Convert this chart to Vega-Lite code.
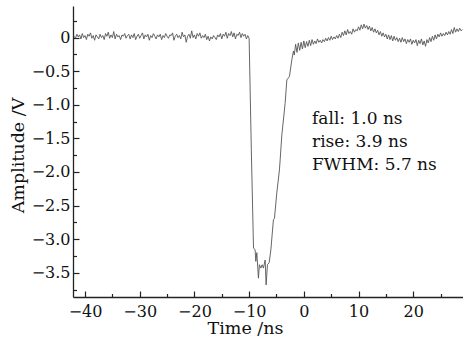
{
  "$schema": "https://vega.github.io/schema/vega-lite/v6.json",
  "width": 390,
  "height": 291,
  "autosize": {"type": "none"},
  "padding": {"left": 73, "top": 6, "right": 0, "bottom": 44},
  "background": "#ffffff",
  "config": {
    "view": {"stroke": null},
    "axis": {
      "grid": false,
      "domainColor": "#222222",
      "domainWidth": 1.3,
      "tickColor": "#222222",
      "tickWidth": 1.2,
      "labelFont": "DejaVu Serif",
      "labelFontSize": 16,
      "labelColor": "#111111",
      "titleFont": "DejaVu Serif",
      "titleFontSize": 17.5,
      "titleFontWeight": "normal",
      "titleColor": "#111111"
    }
  },
  "encoding": {
    "x": {
      "field": "t",
      "type": "quantitative",
      "scale": {"domain": [-42.2, 29.1], "nice": false, "zero": false},
      "axis": {
        "title": "Time /ns",
        "values": [-40, -35, -30, -25, -20, -15, -10, -5, 0, 5, 10, 15, 20, 25],
        "labelExpr": "datum.value % 10 == 0 ? format(datum.value, 'd') : ''",
        "tickSize": {"condition": {"test": "datum.value % 10 == 0", "value": -6}, "value": -3.5},
        "labelPadding": 12,
        "labelFlush": false,
        "labelOverlap": false,
        "titleX": 172,
        "titleY": 36,
        "titleBaseline": "alphabetic",
        "titleAlign": "center"
      }
    },
    "y": {
      "field": "v",
      "type": "quantitative",
      "scale": {"domain": [-3.86, 0.47], "nice": false, "zero": false},
      "axis": {
        "title": "Amplitude /V",
        "values": [-3.75, -3.5, -3.25, -3.0, -2.75, -2.5, -2.25, -2.0, -1.75, -1.5, -1.25, -1.0, -0.75, -0.5, -0.25, 0, 0.25],
        "labelExpr": "datum.value == 0 ? '0' : (abs(datum.value * 2 - round(datum.value * 2)) < 0.000001 ? format(datum.value, '.1f') : '')",
        "tickSize": {"condition": {"test": "abs(datum.value * 2 - round(datum.value * 2)) < 0.000001", "value": -6}, "value": -3.5},
        "labelPadding": 9,
        "labelFlush": false,
        "labelOverlap": false,
        "titleX": -50,
        "titleY": 149,
        "titleAngle": -90,
        "titleBaseline": "alphabetic",
        "titleAlign": "center"
      }
    }
  },
  "layer": [
    {
      "data": {"values": [
        {"t": -42.0, "v": 0.02}, {"t": -41.75, "v": -0.01}, {"t": -41.5, "v": 0.05}, {"t": -41.25, "v": 0.01},
        {"t": -41.0, "v": 0.04}, {"t": -40.75, "v": -0.02}, {"t": -40.5, "v": 0.06}, {"t": -40.25, "v": 0.0},
        {"t": -40.0, "v": 0.03}, {"t": -39.75, "v": -0.03}, {"t": -39.5, "v": 0.05}, {"t": -39.25, "v": 0.02},
        {"t": -39.0, "v": 0.07}, {"t": -38.75, "v": -0.01}, {"t": -38.5, "v": 0.03}, {"t": -38.25, "v": -0.04},
        {"t": -38.0, "v": 0.04}, {"t": -37.75, "v": 0.01}, {"t": -37.5, "v": -0.02}, {"t": -37.25, "v": 0.05},
        {"t": -37.0, "v": 0.0}, {"t": -36.75, "v": 0.03}, {"t": -36.5, "v": -0.03}, {"t": -36.25, "v": 0.06},
        {"t": -36.0, "v": 0.02}, {"t": -35.75, "v": 0.08}, {"t": -35.5, "v": -0.01}, {"t": -35.25, "v": 0.04},
        {"t": -35.0, "v": 0.0}, {"t": -34.75, "v": 0.09}, {"t": -34.5, "v": -0.02}, {"t": -34.25, "v": 0.05},
        {"t": -34.0, "v": 0.01}, {"t": -33.75, "v": 0.03}, {"t": -33.5, "v": -0.03}, {"t": -33.25, "v": 0.04},
        {"t": -33.0, "v": 0.02}, {"t": -32.75, "v": 0.06}, {"t": -32.5, "v": -0.01}, {"t": -32.25, "v": 0.03},
        {"t": -32.0, "v": 0.05}, {"t": -31.75, "v": -0.02}, {"t": -31.5, "v": 0.04}, {"t": -31.25, "v": 0.0},
        {"t": -31.0, "v": 0.06}, {"t": -30.75, "v": -0.03}, {"t": -30.5, "v": 0.02}, {"t": -30.25, "v": 0.05},
        {"t": -30.0, "v": -0.01}, {"t": -29.75, "v": 0.03}, {"t": -29.5, "v": 0.07}, {"t": -29.25, "v": -0.02},
        {"t": -29.0, "v": 0.04}, {"t": -28.75, "v": 0.01}, {"t": -28.5, "v": 0.05}, {"t": -28.25, "v": -0.04},
        {"t": -28.0, "v": 0.03}, {"t": -27.75, "v": 0.0}, {"t": -27.5, "v": 0.06}, {"t": -27.25, "v": 0.02},
        {"t": -27.0, "v": -0.02}, {"t": -26.75, "v": 0.04}, {"t": -26.5, "v": 0.01}, {"t": -26.25, "v": 0.05},
        {"t": -26.0, "v": -0.03}, {"t": -25.75, "v": 0.03}, {"t": -25.5, "v": 0.0}, {"t": -25.25, "v": 0.06},
        {"t": -25.0, "v": 0.02}, {"t": -24.75, "v": -0.01}, {"t": -24.5, "v": 0.04}, {"t": -24.25, "v": 0.03},
        {"t": -24.0, "v": 0.07}, {"t": -23.75, "v": -0.04}, {"t": -23.5, "v": 0.02}, {"t": -23.25, "v": 0.05},
        {"t": -23.0, "v": 0.0}, {"t": -22.75, "v": 0.03}, {"t": -22.5, "v": -0.02}, {"t": -22.25, "v": 0.08},
        {"t": -22.0, "v": 0.01}, {"t": -21.75, "v": 0.04}, {"t": -21.5, "v": -0.07}, {"t": -21.25, "v": 0.02},
        {"t": -21.0, "v": 0.05}, {"t": -20.75, "v": -0.01}, {"t": -20.5, "v": 0.1}, {"t": -20.25, "v": 0.0},
        {"t": -20.0, "v": 0.04}, {"t": -19.75, "v": -0.02}, {"t": -19.5, "v": 0.06}, {"t": -19.25, "v": 0.02},
        {"t": -19.0, "v": 0.07}, {"t": -18.75, "v": -0.01}, {"t": -18.5, "v": 0.03}, {"t": -18.25, "v": 0.0},
        {"t": -18.0, "v": 0.05}, {"t": -17.75, "v": -0.03}, {"t": -17.5, "v": 0.02}, {"t": -17.25, "v": -0.05},
        {"t": -17.0, "v": 0.01}, {"t": -16.75, "v": -0.02}, {"t": -16.5, "v": 0.03}, {"t": -16.25, "v": 0.0},
        {"t": -16.0, "v": -0.03}, {"t": -15.75, "v": 0.04}, {"t": -15.5, "v": 0.01}, {"t": -15.25, "v": 0.06},
        {"t": -15.0, "v": -0.02}, {"t": -14.75, "v": 0.05}, {"t": -14.5, "v": 0.02}, {"t": -14.25, "v": 0.08},
        {"t": -14.0, "v": -0.01}, {"t": -13.75, "v": 0.06}, {"t": -13.5, "v": 0.03}, {"t": -13.25, "v": 0.09},
        {"t": -13.0, "v": 0.01}, {"t": -12.75, "v": 0.07}, {"t": -12.5, "v": -0.02}, {"t": -12.25, "v": 0.05},
        {"t": -12.0, "v": 0.03}, {"t": -11.75, "v": 0.08}, {"t": -11.5, "v": 0.0}, {"t": -11.25, "v": 0.06},
        {"t": -11.0, "v": 0.02}, {"t": -10.75, "v": 0.05}, {"t": -10.5, "v": -0.02}, {"t": -10.25, "v": 0.03},
        {"t": -10.0, "v": -0.01},
        {"t": -9.6, "v": -1.67}, {"t": -9.2, "v": -3.13}, {"t": -8.9, "v": -3.16}, {"t": -8.78, "v": -3.33},
        {"t": -8.59, "v": -3.2}, {"t": -8.3, "v": -3.58}, {"t": -8.12, "v": -3.38}, {"t": -7.86, "v": -3.43},
        {"t": -7.62, "v": -3.38}, {"t": -7.39, "v": -3.43}, {"t": -7.07, "v": -3.31}, {"t": -6.89, "v": -3.68},
        {"t": -6.65, "v": -3.38}, {"t": -6.34, "v": -3.35}, {"t": -6.03, "v": -3.16}, {"t": -5.56, "v": -2.71},
        {"t": -5.37, "v": -2.69}, {"t": -4.94, "v": -2.31}, {"t": -4.46, "v": -1.97}, {"t": -4.33, "v": -1.82},
        {"t": -4.02, "v": -1.45}, {"t": -3.42, "v": -0.98}, {"t": -3.11, "v": -0.63}, {"t": -2.63, "v": -0.58},
        {"t": -2.19, "v": -0.33}, {"t": -1.9, "v": -0.2},
        {"t": -1.75, "v": -0.26}, {"t": -1.5, "v": -0.1}, {"t": -1.25, "v": -0.22}, {"t": -1.0, "v": -0.08},
        {"t": -0.75, "v": -0.19}, {"t": -0.5, "v": -0.07}, {"t": -0.25, "v": -0.17}, {"t": 0.0, "v": -0.05},
        {"t": 0.25, "v": -0.15}, {"t": 0.5, "v": -0.06}, {"t": 0.75, "v": -0.13}, {"t": 1.0, "v": -0.04},
        {"t": 1.25, "v": -0.12}, {"t": 1.5, "v": -0.03}, {"t": 1.75, "v": -0.1}, {"t": 2.0, "v": -0.05},
        {"t": 2.25, "v": -0.09}, {"t": 2.5, "v": -0.02}, {"t": 2.75, "v": -0.07}, {"t": 3.0, "v": -0.04},
        {"t": 3.25, "v": -0.08}, {"t": 3.5, "v": -0.03}, {"t": 3.75, "v": -0.06}, {"t": 4.0, "v": -0.01},
        {"t": 4.25, "v": -0.05}, {"t": 4.5, "v": 0.0}, {"t": 4.75, "v": -0.04}, {"t": 5.0, "v": 0.02},
        {"t": 5.25, "v": -0.03}, {"t": 5.5, "v": 0.01}, {"t": 5.75, "v": -0.02}, {"t": 6.0, "v": 0.03},
        {"t": 6.25, "v": -0.01}, {"t": 6.5, "v": 0.05}, {"t": 6.75, "v": 0.0}, {"t": 7.0, "v": 0.08},
        {"t": 7.25, "v": 0.03}, {"t": 7.5, "v": 0.1}, {"t": 7.75, "v": 0.04}, {"t": 8.0, "v": 0.12},
        {"t": 8.25, "v": 0.06}, {"t": 8.5, "v": 0.09}, {"t": 8.75, "v": 0.05}, {"t": 9.0, "v": 0.13},
        {"t": 9.25, "v": 0.08}, {"t": 9.5, "v": 0.12}, {"t": 9.75, "v": 0.1}, {"t": 10.0, "v": 0.16},
        {"t": 10.25, "v": 0.11}, {"t": 10.5, "v": 0.19}, {"t": 10.75, "v": 0.13}, {"t": 11.0, "v": 0.2},
        {"t": 11.25, "v": 0.14}, {"t": 11.5, "v": 0.18}, {"t": 11.75, "v": 0.12}, {"t": 12.0, "v": 0.17},
        {"t": 12.25, "v": 0.1}, {"t": 12.5, "v": 0.15}, {"t": 12.75, "v": 0.08}, {"t": 13.0, "v": 0.13},
        {"t": 13.25, "v": 0.07}, {"t": 13.5, "v": 0.11}, {"t": 13.75, "v": 0.04}, {"t": 14.0, "v": 0.09},
        {"t": 14.25, "v": 0.02}, {"t": 14.5, "v": 0.07}, {"t": 14.75, "v": 0.01}, {"t": 15.0, "v": 0.05},
        {"t": 15.25, "v": -0.02}, {"t": 15.5, "v": 0.04}, {"t": 15.75, "v": -0.03}, {"t": 16.0, "v": 0.03},
        {"t": 16.25, "v": -0.05}, {"t": 16.5, "v": 0.02}, {"t": 16.75, "v": -0.04}, {"t": 17.0, "v": 0.0},
        {"t": 17.25, "v": -0.06}, {"t": 17.5, "v": -0.01}, {"t": 17.75, "v": -0.07}, {"t": 18.0, "v": 0.0},
        {"t": 18.25, "v": -0.06}, {"t": 18.5, "v": -0.02}, {"t": 18.75, "v": -0.09}, {"t": 19.0, "v": -0.03},
        {"t": 19.25, "v": -0.07}, {"t": 19.5, "v": -0.02}, {"t": 19.75, "v": -0.1}, {"t": 20.0, "v": -0.04},
        {"t": 20.25, "v": -0.08}, {"t": 20.5, "v": -0.03}, {"t": 20.75, "v": -0.12}, {"t": 21.0, "v": -0.04},
        {"t": 21.25, "v": -0.09}, {"t": 21.5, "v": -0.02}, {"t": 21.75, "v": -0.11}, {"t": 22.0, "v": -0.05},
        {"t": 22.25, "v": -0.13}, {"t": 22.5, "v": -0.03}, {"t": 22.75, "v": -0.08}, {"t": 23.0, "v": 0.0},
        {"t": 23.25, "v": -0.06}, {"t": 23.5, "v": 0.02}, {"t": 23.75, "v": -0.04}, {"t": 24.0, "v": 0.04},
        {"t": 24.25, "v": -0.02}, {"t": 24.5, "v": 0.05}, {"t": 24.75, "v": 0.01}, {"t": 25.0, "v": 0.07},
        {"t": 25.25, "v": 0.02}, {"t": 25.5, "v": 0.06}, {"t": 25.75, "v": 0.03}, {"t": 26.0, "v": 0.08},
        {"t": 26.25, "v": 0.04}, {"t": 26.5, "v": 0.09}, {"t": 26.75, "v": 0.05}, {"t": 27.0, "v": 0.12},
        {"t": 27.25, "v": 0.06}, {"t": 27.5, "v": 0.15}, {"t": 27.75, "v": 0.08}, {"t": 28.0, "v": 0.13},
        {"t": 28.25, "v": 0.09}, {"t": 28.5, "v": 0.14}, {"t": 28.75, "v": 0.1}, {"t": 29.0, "v": 0.12}
      ]},
      "mark": {"type": "line", "color": "#555555", "strokeWidth": 0.9, "clip": true}
    },
    {
      "data": {"values": [
        {"t": 1.5, "v": -1.286, "label": "fall: 1.0 ns"},
        {"t": 1.5, "v": -1.628, "label": "rise: 3.9 ns"},
        {"t": 1.5, "v": -1.97, "label": "FWHM: 5.7 ns"}
      ]},
      "mark": {"type": "text", "align": "left", "baseline": "alphabetic", "font": "DejaVu Serif", "fontSize": 17, "color": "#111111"},
      "encoding": {"text": {"field": "label", "type": "nominal"}}
    }
  ]
}
